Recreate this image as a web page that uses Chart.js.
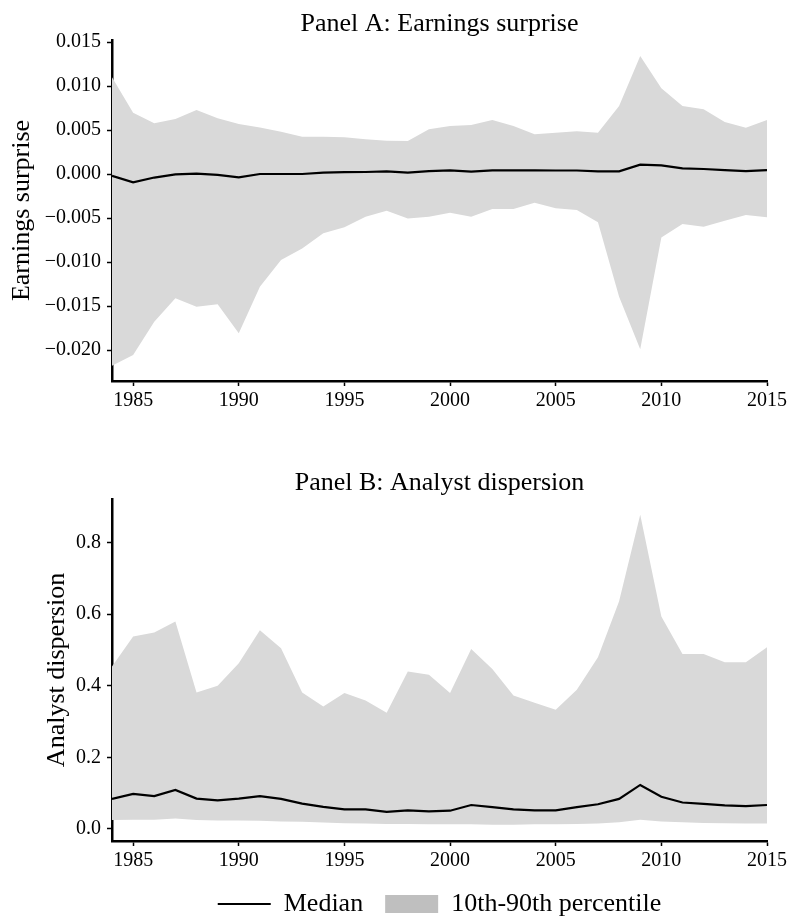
<!DOCTYPE html>
<html>
<head>
<meta charset="utf-8">
<script src="https://cdn.jsdelivr.net/npm/chart.js@4.4.1/dist/chart.umd.min.js"></script>
<style>
  body { margin: 0; background: #fff; overflow: hidden; width: 790px; height: 917px; }
  #boxA { position: absolute; left: 0; top: 0; width: 790px; height: 440px; }
  #boxB { position: absolute; left: 0; top: 460px; width: 790px; height: 467px; }
</style>
</head>
<body>
<div id="boxA"><canvas id="panelA"></canvas></div>
<div id="boxB"><canvas id="panelB"></canvas></div>
<script>
// Years on the x axis
const years = [1984, 1985, 1986, 1987, 1988, 1989, 1990, 1991, 1992, 1993, 1994, 1995, 1996, 1997, 1998, 1999,
               2000, 2001, 2002, 2003, 2004, 2005, 2006, 2007, 2008, 2009, 2010, 2011, 2012, 2013, 2014, 2015];
const xTicks = [1985, 1990, 1995, 2000, 2005, 2010, 2015];

// Panel A: earnings surprise
const surpriseMedian = [-0.0002, -0.00095, -0.0004, -0.00005, 0.00004, -0.0001, -0.00038, 0.0, 0.0, 0.0, 0.00015, 0.00022,
                        0.00023, 0.0003, 0.00016, 0.00034, 0.00042, 0.00028, 0.00042, 0.00042, 0.00042, 0.0004, 0.0004, 0.0003,
                        0.0003, 0.00106, 0.00098, 0.00064, 0.00057, 0.00045, 0.00034, 0.00045];
const surpriseP90 = [0.0110, 0.00697, 0.00576, 0.00625, 0.00727, 0.00633, 0.00568, 0.0053, 0.0048, 0.00424, 0.00424, 0.00417,
                     0.00394, 0.00379, 0.00375, 0.00508, 0.00545, 0.00557, 0.00614, 0.00545, 0.00451, 0.0047, 0.00485, 0.0047,
                     0.00773, 0.0134, 0.00974, 0.00773, 0.00735, 0.0059, 0.00526, 0.00614];
const surpriseP10 = [-0.02178, -0.02057, -0.01678, -0.01413, -0.01508, -0.01481, -0.0181, -0.0128, -0.00977, -0.00845, -0.00674,
                     -0.00606, -0.00485, -0.00417, -0.00504, -0.00485, -0.0044, -0.00485, -0.00398, -0.00398, -0.00326, -0.0039,
                     -0.00409, -0.00549, -0.01394, -0.01992, -0.0072, -0.00568, -0.00598, -0.0053, -0.00466, -0.00492];
const surpriseTicks = [-0.020, -0.015, -0.010, -0.005, 0.000, 0.005, 0.010, 0.015];

// Panel B: analyst dispersion
const dispersionMedian = [0.084, 0.098, 0.092, 0.109, 0.085, 0.080, 0.085, 0.092, 0.084, 0.071, 0.062, 0.055, 0.055, 0.048, 0.052,
                          0.049, 0.051, 0.067, 0.061, 0.055, 0.052, 0.052, 0.061, 0.069, 0.084, 0.123, 0.090, 0.074, 0.070,
                          0.066, 0.064, 0.067];
const dispersionP90 = [0.454, 0.538, 0.549, 0.580, 0.381, 0.400, 0.463, 0.555, 0.505, 0.381, 0.342, 0.380, 0.359, 0.325, 0.440,
                       0.431, 0.380, 0.503, 0.447, 0.373, 0.353, 0.333, 0.389, 0.480, 0.636, 0.878, 0.594, 0.489, 0.489,
                       0.466, 0.466, 0.508];
const dispersionP10 = [0.025, 0.026, 0.026, 0.029, 0.025, 0.024, 0.024, 0.023, 0.021, 0.020, 0.018, 0.016, 0.015, 0.014, 0.014,
                       0.013, 0.013, 0.013, 0.012, 0.012, 0.013, 0.013, 0.014, 0.015, 0.019, 0.026, 0.021, 0.019, 0.017,
                       0.016, 0.015, 0.015];
const dispersionTicks = [0.0, 0.2, 0.4, 0.6, 0.8];

Chart.defaults.font.family = "'Liberation Serif', 'DejaVu Serif', serif";
Chart.defaults.color = '#000';

const BAND = '#d9d9d9';
const BAND_LEGEND = '#bfbfbf';

function points(values) {
    return years.map((ano, i) => ({ x: ano, y: values[i] }));
}

function makeChart(canvasId, opts) {
    return new Chart(document.getElementById(canvasId), {
        type: 'line',
        data: {
            datasets: [
                { label: 'Median', data: points(opts.median), borderColor: '#000', borderWidth: 2.2,
                  pointRadius: 0, fill: false, tension: 0 },
                { label: 'p90', data: points(opts.upper), borderColor: 'transparent', borderWidth: 0,
                  pointRadius: 0, backgroundColor: BAND, fill: '+1', tension: 0 },
                { label: 'p10', data: points(opts.lower), borderColor: 'transparent', borderWidth: 0,
                  pointRadius: 0, fill: false, tension: 0 }
            ]
        },
        options: {
            responsive: true,
            maintainAspectRatio: false,
            animation: false,
            layout: { padding: { left: 0, right: 21, top: 0, bottom: 0 } },
            plugins: {
                title: {
                    display: true,
                    fullSize: false, // centre over the plot area
                    text: opts.title,
                    font: { size: 26, weight: 'normal' },
                    color: '#000',
                    padding: opts.titlePadding
                },
                legend: opts.legend,
                tooltip: { enabled: false }
            },
            scales: {
                x: {
                    type: 'linear',
                    min: 1984,
                    max: 2015,
                    afterBuildTicks: s => { s.ticks = xTicks.map(v => ({ value: v })); },
                    afterFit: s => { s.height = opts.xHeight; },
                    ticks: { font: { size: 20 }, padding: 3, maxRotation: 0, callback: v => String(v) },
                    grid: { drawOnChartArea: false, drawTicks: true, tickLength: 5, tickColor: '#000', tickWidth: 1.5 },
                    border: { display: true, color: '#000', width: 2.5 }
                },
                y: {
                    min: opts.yMin,
                    max: opts.yMax,
                    afterBuildTicks: s => { s.ticks = opts.yTicks.map(v => ({ value: v })); },
                    afterFit: s => { s.width = 112; },
                    ticks: {
                        font: { size: 20 },
                        padding: 6,
                        callback: v => {
                            const txt = Math.abs(v).toFixed(opts.decimals);
                            return v < -1e-9 ? '\u2212' + txt : txt;
                        }
                    },
                    title: {
                        display: true,
                        text: opts.yTitle,
                        font: { size: 26, weight: 'normal' },
                        color: '#000',
                        padding: { top: opts.yTitlePad, bottom: 0 }
                    },
                    grid: { drawOnChartArea: false, drawTicks: true, tickLength: 5, tickColor: '#000', tickWidth: 1.5 },
                    border: { display: true, color: '#000', width: 2.5 }
                }
            }
        }
    });
}

makeChart('panelA', {
    title: 'Panel A: Earnings surprise',
    titlePadding: { top: 8.8, bottom: 0 },
    yTitle: 'Earnings surprise',
    yTitlePad: 6.4,
    median: surpriseMedian,
    upper: surpriseP90,
    lower: surpriseP10,
    yMin: -0.02352,
    yMax: 0.01523,
    yTicks: surpriseTicks,
    decimals: 3,
    xHeight: 59,
    legend: { display: false }
});

makeChart('panelB', {
    title: 'Panel B: Analyst dispersion',
    titlePadding: { top: 7.8, bottom: 0 },
    yTitle: 'Analyst dispersion',
    yTitlePad: 41.4,
    median: dispersionMedian,
    upper: dispersionP90,
    lower: dispersionP10,
    yMin: -0.0336,
    yMax: 0.922,
    yTicks: dispersionTicks,
    decimals: 1,
    xHeight: 28,
    legend: {
        display: true,
        fullSize: false,
        position: 'bottom',
        labels: {
            usePointStyle: true,
            pointStyleWidth: 53,
            boxHeight: 18,
            padding: 22,
            font: { size: 26 },
            color: '#000',
            generateLabels: () => [
                { text: 'Median', pointStyle: 'line', strokeStyle: '#000', fillStyle: '#000', lineWidth: 2, hidden: false, datasetIndex: 0 },
                { text: '10th-90th percentile', pointStyle: 'rect', strokeStyle: BAND_LEGEND, fillStyle: BAND_LEGEND, lineWidth: 0, hidden: false, datasetIndex: 1 }
            ]
        },
        onClick: () => {}
    }
});
</script>
</body>
</html>
